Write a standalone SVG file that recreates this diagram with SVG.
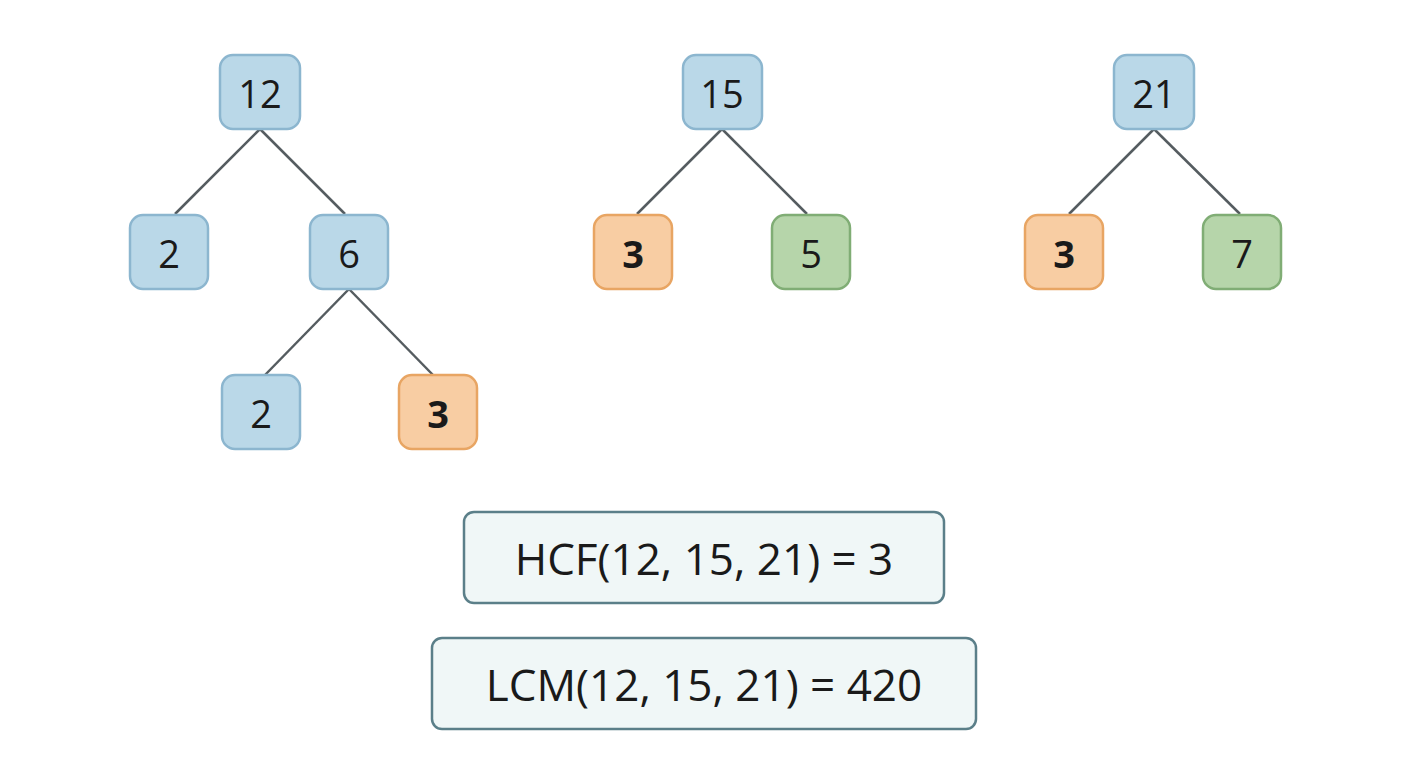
<svg xmlns="http://www.w3.org/2000/svg" width="1408" height="768" viewBox="0 0 1408 768">
<style>
.b rect{fill:#bad8e8;stroke:#8cb6cf;stroke-width:2.5}
.o rect{fill:#f8cda3;stroke:#e8a563;stroke-width:2.5}
.g rect{fill:#b6d5aa;stroke:#80ad75;stroke-width:2.5}
text{font-family:"Open Sans","Liberation Sans",sans-serif;font-size:38px;fill:#1a1a1a;text-anchor:middle;dominant-baseline:central}
.o text{font-weight:bold}
.r rect{fill:#f0f7f7;stroke:#5b7f89;stroke-width:2.5}
.r text{font-size:44px}
#edges line{stroke:#555c60;stroke-width:2.5}
</style>
<rect width="1408" height="768" fill="#fff"/>
<g id="edges">
<line x1="260" y1="129" x2="175" y2="214"/><line x1="260" y1="129" x2="345" y2="214"/>
<line x1="349" y1="289" x2="265" y2="375"/><line x1="349" y1="289" x2="433" y2="375"/>
<line x1="722" y1="129" x2="637" y2="214"/><line x1="722" y1="129" x2="807" y2="214"/>
<line x1="1154" y1="129" x2="1069" y2="214"/><line x1="1154" y1="129" x2="1240" y2="214"/>
</g>
<g id="n12" class="b"><rect x="220" y="55" width="80" height="74" rx="13"/><text x="260" y="93">12</text></g>
<g id="n2a" class="b"><rect x="130" y="215" width="78" height="74" rx="13"/><text x="169" y="253">2</text></g>
<g id="n6" class="b"><rect x="310" y="215" width="78" height="74" rx="13"/><text x="349" y="253">6</text></g>
<g id="n2b" class="b"><rect x="222" y="375" width="78" height="74" rx="13"/><text x="261" y="413">2</text></g>
<g id="n3a" class="o"><rect x="399" y="375" width="78" height="74" rx="13"/><text x="438" y="413">3</text></g>
<g id="n15" class="b"><rect x="683" y="55" width="79" height="74" rx="13"/><text x="722" y="93">15</text></g>
<g id="n3b" class="o"><rect x="594" y="215" width="78" height="74" rx="13"/><text x="633" y="253">3</text></g>
<g id="n5" class="g"><rect x="772" y="215" width="78" height="74" rx="13"/><text x="811" y="253">5</text></g>
<g id="n21" class="b"><rect x="1114" y="55" width="80" height="74" rx="13"/><text x="1154" y="93">21</text></g>
<g id="n3c" class="o"><rect x="1025" y="215" width="78" height="74" rx="13"/><text x="1064" y="253">3</text></g>
<g id="n7" class="g"><rect x="1203" y="215" width="78" height="74" rx="13"/><text x="1242" y="253">7</text></g>
<g id="hcf" class="r"><rect x="464" y="512" width="480" height="91" rx="10"/><text x="704" y="558">HCF(12, 15, 21) = 3</text></g>
<g id="lcm" class="r"><rect x="432" y="638" width="544" height="91" rx="10"/><text x="704" y="684">LCM(12, 15, 21) = 420</text></g>
</svg>
